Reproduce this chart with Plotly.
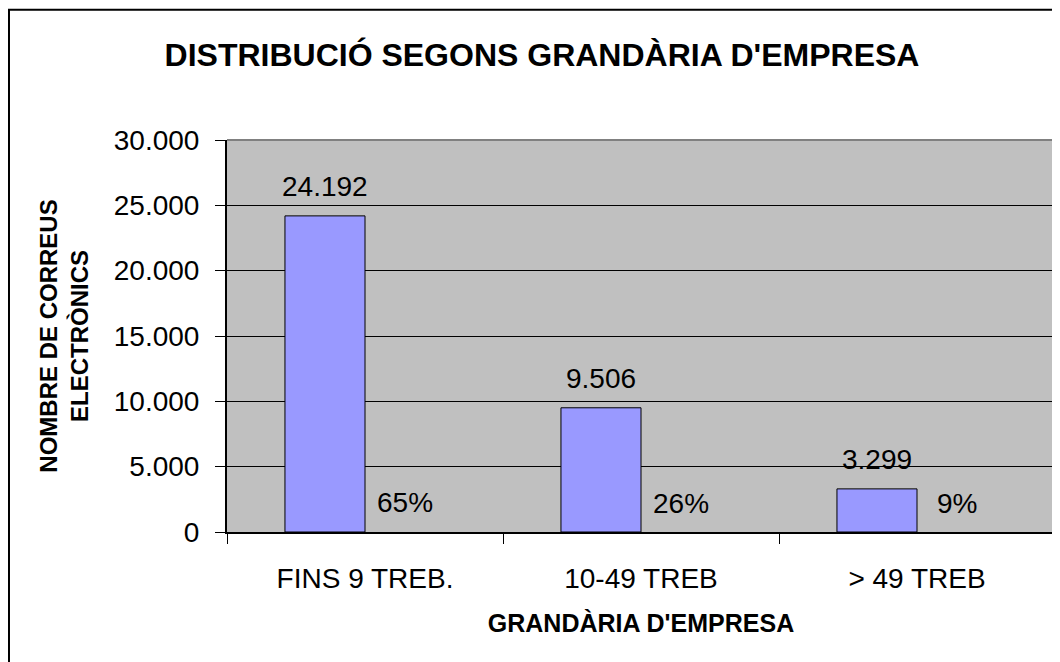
import plotly.graph_objects as go

categories = ["FINS 9 TREB.", "10-49 TREB", "> 49 TREB"]
correus = [24192, 9506, 3299]
percentatges = [0.65, 0.26, 0.09]

FONT = "Liberation Sans, Arial, sans-serif"

fig = go.Figure()

# main series: number of e-mails
fig.add_trace(go.Bar(
    x=categories, y=correus,
    marker=dict(color="#9999FF", line=dict(color="black", width=1)),
    showlegend=False, hoverinfo="x+y",
))

# second series: shares (tiny values, only the labels are visible)
fig.add_trace(go.Bar(
    x=categories, y=percentatges,
    marker=dict(color="rgba(0,0,0,0)", line=dict(width=0)),
    showlegend=False, hoverinfo="skip",
))

# data labels above each bar, Excel style
for cat, v in zip(categories, correus):
    fig.add_annotation(x=cat, y=v, text=f"{v:,}".replace(",", "."),
                       xshift=-40, yshift=29, showarrow=False,
                       yanchor="middle", font=dict(size=28, color="black"))
for cat, p in zip(categories, percentatges):
    fig.add_annotation(x=cat, y=p, text=f"{round(p * 100)}%",
                       xshift=40, yshift=29, showarrow=False,
                       yanchor="middle", font=dict(size=28, color="black"))

# gray border on top and right of plot area
fig.add_shape(type="line", xref="paper", yref="paper", x0=0, x1=1, y0=1, y1=1,
              line=dict(color="#808080", width=2))
fig.add_shape(type="line", xref="paper", yref="paper", x0=1, x1=1, y0=0, y1=1,
              line=dict(color="#808080", width=2))

# outer chart border (runs off canvas at right / bottom)
fig.add_shape(type="rect", xref="paper", yref="paper",
              x0=-0.2633, x1=1.1, y0=-0.5, y1=1.332,
              line=dict(color="black", width=2), fillcolor="rgba(0,0,0,0)")

# page body has an 8px margin, so the figure is 8px smaller than the window
fig.update_layout(
    width=1052, height=654,
    margin=dict(l=219, r=5, t=132, b=130),
    paper_bgcolor="white",
    plot_bgcolor="#C0C0C0",
    separators=",.",
    font=dict(family=FONT, color="black", size=28),
    barmode="group",
    bargap=0.42,
    bargroupgap=0,
    title=dict(text="<b>DISTRIBUCIÓ SEGONS GRANDÀRIA D'EMPRESA</b>",
               x=0.5076, xanchor="center", xref="container",
               y=0.928, yanchor="middle", yref="container",
               font=dict(size=32, color="black")),
)

fig.update_xaxes(
    showline=True, linecolor="black", linewidth=2,
    ticks="outside", tickson="boundaries", ticklen=10, tickcolor="black", tickwidth=1,
    ticklabelstandoff=20,
    tickfont=dict(size=28),
    showgrid=False,
    title=dict(text="<b>GRANDÀRIA D'EMPRESA</b>", font=dict(size=25), standoff=22),
)

fig.update_yaxes(
    range=[0, 30000], dtick=5000, tickformat=",",
    showline=True, linecolor="black", linewidth=2,
    ticks="outside", ticklen=10, tickcolor="black", tickwidth=1,
    ticklabelstandoff=10,
    tickfont=dict(size=28),
    showgrid=True, gridcolor="black", gridwidth=1,
    zeroline=False,
    title=dict(text="<b>NOMBRE DE CORREUS<br>ELECTRÒNICS</b>", font=dict(size=24), standoff=18),
)

fig.write_html("out.html")
